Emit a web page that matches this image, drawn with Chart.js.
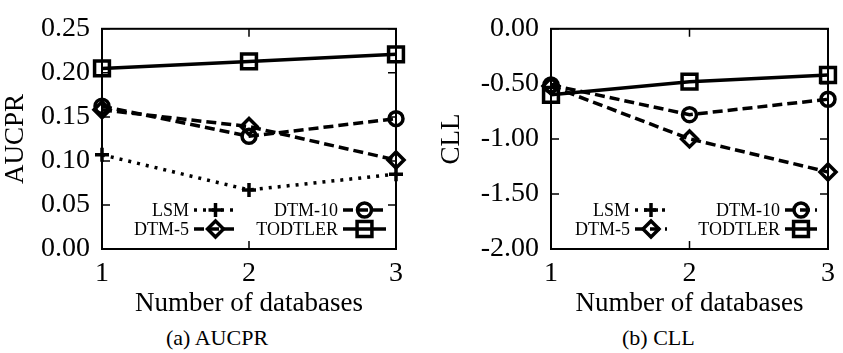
<!DOCTYPE html>
<html lang="en">
<head>
    <meta charset="UTF-8">
    <title>AUCPR and CLL by number of databases</title>
    <script src="https://cdn.jsdelivr.net/npm/chart.js"></script>
    <style>
        body { margin: 0; background: #fff; }
        .wrap { position: relative; width: 843px; height: 353px; }
        .box { position: absolute; top: 0; height: 320px; }
        .caption { position: absolute; top: 325px; font: 22px "Liberation Serif", serif; color: #000; }
    </style>
</head>
<body>
    <div class="wrap">
        <div class="box" style="left:0;width:420px;"><canvas id="aucprChart"></canvas></div>
        <div class="box" style="left:420px;width:423px;"><canvas id="cllChart"></canvas></div>
        <div class="caption" style="left:166px;">(a) AUCPR</div>
        <div class="caption" style="left:622px;">(b) CLL</div>
    </div>

    <script>
        // number of databases
        const databases = [1, 2, 3];

        // AUCPR
        const aucprLSM = [0.107, 0.067, 0.085];
        const aucprDTM5 = [0.158, 0.139, 0.101];
        const aucprDTM10 = [0.162, 0.128, 0.148];
        const aucprTODTLER = [0.205, 0.213, 0.221];
        const aucprTicks = [0, 0.05, 0.10, 0.15, 0.20, 0.25];

        // CLL (LSM falls outside the plotted range)
        const cllLSM = [null, null, null];
        const cllDTM5 = [-0.52, -1.00, -1.30];
        const cllDTM10 = [-0.51, -0.78, -0.64];
        const cllTODTLER = [-0.60, -0.48, -0.42];
        const cllTicks = [-2, -1.5, -1, -0.5, 0];

        const FONT = "'Liberation Serif', 'Times New Roman', serif";

        function toPoints(values) {
            return values.map((v, i) => ({ x: databases[i], y: v }));
        }

        const seriesStyle = {
            LSM: { borderDash: [3, 6], pointStyle: "cross", pointRadius: 7 },
            "DTM-5": { borderDash: [10, 5], pointStyle: "rectRot", pointRadius: 8 },
            "DTM-10": { borderDash: [10, 5], pointStyle: "circle", pointRadius: 7 },
            TODTLER: { borderDash: [], pointStyle: "rect", pointRadius: 10.5 }
        };

        function makeDataset(label, values) {
            const s = seriesStyle[label];
            return {
                label: label,
                data: toPoints(values),
                borderColor: "#000",
                borderWidth: 3.5,
                borderDash: s.borderDash,
                pointStyle: s.pointStyle,
                pointRadius: s.pointRadius,
                pointBorderWidth: 3.5,
                pointBorderColor: "#000",
                pointBackgroundColor: "rgba(0,0,0,0)",
                tension: 0,
                clip: false
            };
        }

        // gnuplot-like frame with inward tick marks
        const framePlugin = {
            id: "frame",
            beforeDatasetsDraw(chart) {
                const { ctx, chartArea: a, scales } = chart;
                ctx.save();
                ctx.strokeStyle = "#000";
                ctx.lineWidth = 2;
                ctx.strokeRect(a.left, a.top, a.right - a.left, a.bottom - a.top);
                const len = 8;
                ctx.lineWidth = 1.5;
                ctx.beginPath();
                scales.y.ticks.forEach(t => {
                    const y = scales.y.getPixelForValue(t.value);
                    ctx.moveTo(a.left, y); ctx.lineTo(a.left + len, y);
                    ctx.moveTo(a.right, y); ctx.lineTo(a.right - len, y);
                });
                scales.x.ticks.forEach(t => {
                    const x = scales.x.getPixelForValue(t.value);
                    ctx.moveTo(x, a.bottom); ctx.lineTo(x, a.bottom - len);
                    ctx.moveTo(x, a.top); ctx.lineTo(x, a.top + len);
                });
                ctx.stroke();
                ctx.restore();
            }
        };

        // legend inside the plot: text, then sample line with marker
        const keyPlugin = {
            id: "key",
            afterDatasetsDraw(chart, args, opts) {
                const { ctx, chartArea: a } = chart;
                const rows = [a.bottom - 39, a.bottom - 20];
                const cols = [a.left + opts.col1, a.left + opts.col2];
                const order = ["LSM", "DTM-10", "DTM-5", "TODTLER"];
                ctx.save();
                order.forEach((name, i) => {
                    const ds = chart.data.datasets.find(d => d.label === name);
                    const x = cols[i % 2];
                    const y = rows[Math.floor(i / 2)];
                    ctx.font = "18px " + FONT;
                    ctx.fillStyle = "#000";
                    ctx.textAlign = "right";
                    ctx.textBaseline = "middle";
                    ctx.fillText(name, x, y + 1);
                    const x0 = x + 5, x1 = x0 + opts.sample;
                    ctx.strokeStyle = "#000";
                    ctx.lineWidth = 3.5;
                    ctx.setLineDash(ds.borderDash);
                    ctx.beginPath();
                    ctx.moveTo(x0, y); ctx.lineTo(x1, y);
                    ctx.stroke();
                    ctx.setLineDash([]);
                    ctx.fillStyle = "rgba(0,0,0,0)";
                    Chart.helpers.drawPoint(ctx, {
                        pointStyle: ds.pointStyle,
                        radius: ds.pointRadius,
                        borderWidth: 3.5,
                        rotation: 0
                    }, (x0 + x1) / 2, y);
                });
                ctx.restore();
            }
        };

        function buildChart(id, cfg) {
            const ctx = document.getElementById(id).getContext("2d");
            return new Chart(ctx, {
                type: "line",
                data: {
                    datasets: [
                        makeDataset("LSM", cfg.lsm),
                        makeDataset("DTM-5", cfg.dtm5),
                        makeDataset("DTM-10", cfg.dtm10),
                        makeDataset("TODTLER", cfg.todtler)
                    ]
                },
                options: {
                    responsive: true,
                    maintainAspectRatio: false,
                    animation: false,
                    layout: { padding: { top: 16, right: cfg.padRight, left: 0, bottom: 0 } },
                    plugins: {
                        legend: { display: false },
                        tooltip: { enabled: false },
                        key: cfg.key
                    },
                    scales: {
                        x: {
                            type: "linear",
                            min: 1,
                            max: 3,
                            afterBuildTicks: s => { s.ticks = databases.map(v => ({ value: v })); },
                            grid: { display: false, drawTicks: false },
                            border: { display: false },
                            ticks: { color: "#000", padding: 8, font: { family: FONT, size: 28 }, callback: v => String(v) },
                            title: { display: true, text: "Number of databases", color: "#000", padding: { top: 0, bottom: 0 }, font: { family: FONT, size: 27 } },
                            afterFit: s => { s.height = 71; }
                        },
                        y: {
                            min: cfg.ticks[0],
                            max: cfg.ticks[cfg.ticks.length - 1],
                            afterBuildTicks: s => { s.ticks = cfg.ticks.map(v => ({ value: v })); },
                            grid: { display: false, drawTicks: false },
                            border: { display: false },
                            ticks: { color: "#000", padding: 12, font: { family: FONT, size: 28 }, callback: v => v.toFixed(2) },
                            title: { display: true, text: cfg.yTitle, color: "#000", padding: { top: cfg.titlePad, bottom: 0 }, font: { family: FONT, size: 27 } },
                            afterFit: s => { s.width = cfg.yWidth; }
                        }
                    }
                },
                plugins: [framePlugin, keyPlugin]
            });
        }

        buildChart("aucprChart", {
            lsm: aucprLSM, dtm5: aucprDTM5, dtm10: aucprDTM10, todtler: aucprTODTLER,
            ticks: aucprTicks, yTitle: "AUCPR", yWidth: 102, padRight: 24, titlePad: 0,
            key: { col1: 87, col2: 236, sample: 43 }
        });

        buildChart("cllChart", {
            lsm: cllLSM, dtm5: cllDTM5, dtm10: cllDTM10, todtler: cllTODTLER,
            ticks: cllTicks, yTitle: "CLL", yWidth: 131, padRight: 10, titlePad: 16,
            key: { col1: 79, col2: 229, sample: 32 }
        });
    </script>
</body>
</html>
